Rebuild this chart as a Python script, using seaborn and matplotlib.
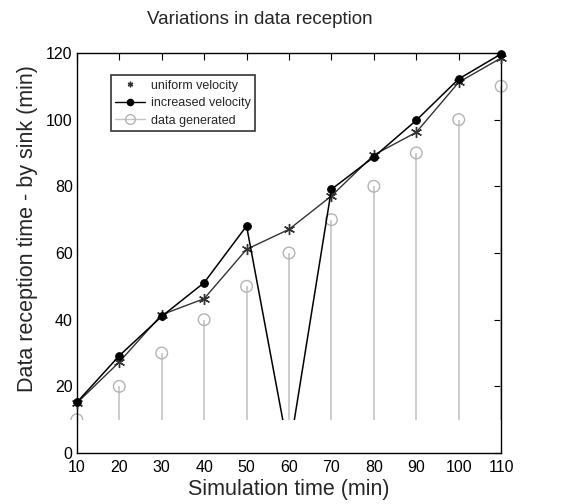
import numpy as np
import pandas as pd
import matplotlib
matplotlib.use('Agg')
import matplotlib.pyplot as plt
import seaborn as sns
from matplotlib.patches import Rectangle
from matplotlib.lines import Line2D

# Values
sim_time = [10, 20, 30, 40, 50, 60, 70, 80, 90, 100, 110]
uniform_velocity = [15, 27.3, 41.5, 46.3, 61.1, 67.1, 77.1, 89.4, 96.2, 111.2, 118.5]
increased_velocity = [15.2, 29.2, 41, 51.1, 68.1, 0, 79.1, 88.8, 99.8, 112.2, 119.7]
data_generated = [10, 20, 30, 40, 50, 60, 70, 80, 90, 100, 110]
stem_base = 10

df = pd.DataFrame({'time': sim_time, 'uniform': uniform_velocity,
                   'increased': increased_velocity, 'generated': data_generated})

sns.set_style('white')
plt.rcParams['font.family'] = ['Liberation Sans', 'DejaVu Sans']

fig = plt.figure(figsize=(5.65, 5.04), dpi=100)
ax = fig.add_axes([0.136, 0.101, 0.751, 0.794])

# data generated as stems
ax.vlines(df['time'], stem_base, df['generated'], color='#c4c4c4', lw=1.2, zorder=1)
sns.scatterplot(data=df, x='time', y='generated', ax=ax, marker='o', s=70,
                facecolor='none', edgecolor='#b4b4b4', linewidth=1.0, zorder=2, legend=False)

sns.lineplot(data=df, x='time', y='uniform', ax=ax, color='#333333', lw=1.0,
             marker=(6, 2, 0), markersize=8, markeredgecolor='#333333', markeredgewidth=1.0, zorder=3)
sns.lineplot(data=df, x='time', y='increased', ax=ax, color='black', lw=1.1,
             marker='o', markersize=5.5, markeredgecolor='black', zorder=4)

# everything below y=10 is cut off, like the original
clip = Rectangle((-100, stem_base), 400, 300, transform=ax.transData)
for art in ax.lines + ax.collections:
    art.set_clip_path(clip)

ax.set_xlim(10, 110)
ax.set_ylim(0, 120)
ax.set_xticks(sim_time)
ax.set_yticks(range(0, 121, 20))
ax.tick_params(direction='in', length=5, width=0.8, top=True, right=True,
               labelsize=11.5, colors='black')
ax.tick_params(axis='x', pad=5)
ax.tick_params(axis='y', pad=3)
for s in ax.spines.values():
    s.set_visible(True)
    s.set_color('black')
    s.set_linewidth(1.0)

ax.set_xlabel('Simulation time (min)', fontsize=15.5, labelpad=3)
ax.set_ylabel('Data reception time - by sink (min)', fontsize=15.5)
ax.yaxis.set_label_coords(-0.092, 0.56)
fig.text(0.459, 0.962, 'Variations in data reception', fontsize=13.5, ha='center', va='center')

handles = [
    Line2D([], [], color='#333333', lw=0, marker=(6, 2, 0), markersize=4),
    Line2D([], [], color='black', lw=1.0, marker='o', markersize=4.5),
    Line2D([], [], color='#c4c4c4', lw=1.0, marker='o', markersize=7,
           markerfacecolor='none', markeredgecolor='#b4b4b4'),
]
labels = ['uniform velocity', 'increased velocity', 'data generated']
leg = ax.legend(handles, labels, loc='upper left', bbox_to_anchor=(0.066, 0.96),
                fontsize=9, frameon=True, fancybox=False, borderpad=0.35,
                handlelength=2.4, handletextpad=0.45, labelspacing=0.45)
leg.get_frame().set_edgecolor('black')
leg.get_frame().set_linewidth(1.2)

fig.savefig('out.png', dpi=100)
